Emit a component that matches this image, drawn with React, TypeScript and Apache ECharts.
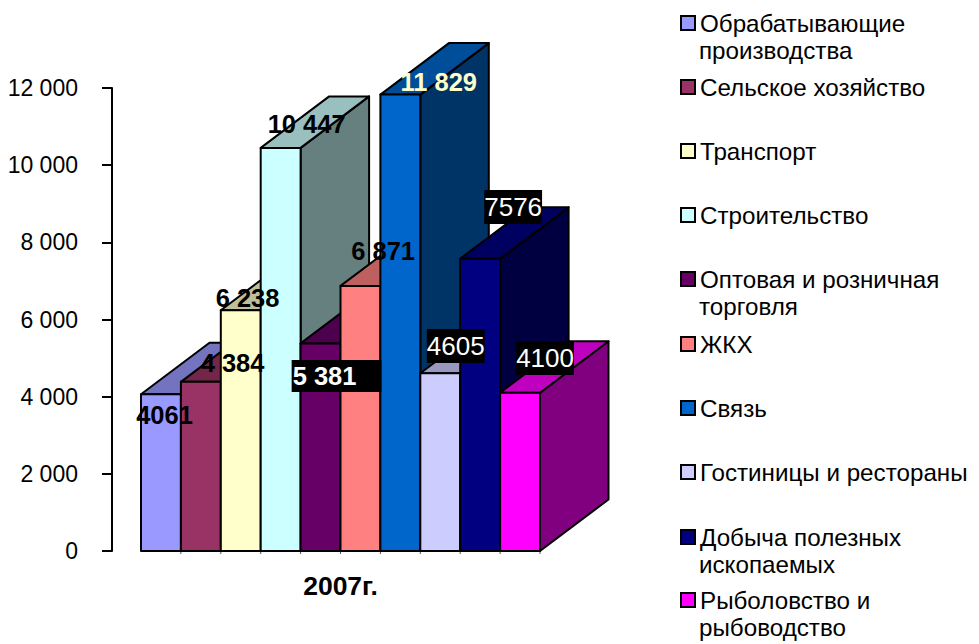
import React, { useEffect, useRef } from "react";
import * as echarts from "echarts";

const category = ["2007г."];
const sectors = [
  "Обрабатывающие",
  "Сельское хозяйство",
  "Транспорт",
  "Строительство",
  "Оптовая и розничная",
  "ЖКХ",
  "Связь",
  "Гостиницы и рестораны",
  "Добыча полезных",
  "Рыболовство и",
];
const secondLines = ["производства", "", "", "", "торговля", "", "", "", "ископаемых", "рыбоводство"];
const values = [4061, 4384, 6238, 10447, 5381, 6871, 11829, 4605, 7576, 4100];
const labelTexts = ["4061", "4 384", "6 238", "10 447", "5 381", "6 871", "11 829", "4605", "7576", "4100"];
const frontColors = ["#9999FF", "#993366", "#FFFFCC", "#CCFFFF", "#660066", "#FF8080", "#0066CC", "#CCCCFF", "#000080", "#FF00FF"];
const topColors = ["#7373BF", "#732647", "#BFBF99", "#99BFBF", "#4D004D", "#BF6060", "#004D99", "#9999BF", "#000060", "#BF00BF"];
const sideColors = ["#4D4D80", "#4D1A33", "#808066", "#668080", "#330033", "#804040", "#003366", "#666680", "#000040", "#800080"];

// Presentation only: how each hand-placed data label sits relative to the top of its bar.
const labelDx = [3.6, 31.7, 6.8, 26, -28.9, 22.7, 38.4, 15.5, 33, 25];
const labelDy = [20.7, -19, -12, -24, 32.6, -35, -12.6, -27.3, -51.7, -34.8];
const labelColors = ["#000", "#000", "#000", "#000", "#fff", "#000", "#FFFFCC", "#fff", "#fff", "#fff"];
const labelBold = [true, true, true, true, true, true, true, false, false, false];
const labelBoxed = [false, false, false, false, true, false, false, true, true, true];
const legendCentres = [23, 87, 151, 215, 279, 344, 408, 472, 537, 600];

const DEPTH_X = 68.5;
const DEPTH_Y = 51.5;
const FONT = '"Liberation Sans", Arial, sans-serif';
const LEGEND_FONT = 24.2;
const LEGEND_LINE = 26;

function barRenderer(i: number) {
  return (_p: any, api: any) => {
    const top = api.coord([0, api.value(1)]);
    const base = api.coord([0, 0]);
    const band = api.size([1, 0])[0];
    const w = band / sectors.length;
    const x0 = top[0] - band / 2 + i * w;
    const x1 = x0 + w;
    const yt = top[1];
    const yb = base[1];
    const stroke = { stroke: "#000", lineWidth: 2, lineJoin: "round" };
    return {
      type: "group",
      children: [
        {
          type: "line",
          shape: { x1: x1, y1: yb, x2: x1, y2: yb + 3 },
          style: { stroke: "#555", lineWidth: 1 },
        },
        {
          type: "polygon",
          shape: { points: [[x1, yt], [x1 + DEPTH_X, yt - DEPTH_Y], [x1 + DEPTH_X, yb - DEPTH_Y], [x1, yb]] },
          style: { fill: sideColors[i], ...stroke },
        },
        {
          type: "polygon",
          shape: { points: [[x0, yt], [x0 + DEPTH_X, yt - DEPTH_Y], [x1 + DEPTH_X, yt - DEPTH_Y], [x1, yt]] },
          style: { fill: topColors[i], ...stroke },
        },
        {
          type: "rect",
          shape: { x: x0, y: yt, width: w, height: yb - yt },
          style: { fill: frontColors[i], ...stroke },
        },
      ],
    };
  };
}

function labelRenderer(params: any, api: any) {
  const i = params.dataIndex;
  const top = api.coord([0, api.value(1)]);
  const band = api.size([1, 0])[0];
  const w = band / sectors.length;
  const cx = top[0] - band / 2 + (i + 0.5) * w;
  const wide = i === 4;
  return {
    type: "text",
    x: cx + labelDx[i],
    y: top[1] + labelDy[i],
    style: {
      text: labelTexts[i],
      fill: labelColors[i],
      font: `${labelBold[i] ? "bold 25.5px" : "26px"} ${FONT}`,
      align: wide ? "left" : "center",
      verticalAlign: "middle",
      backgroundColor: labelBoxed[i] ? "#000" : undefined,
      padding: labelBoxed[i] ? (wide ? [3, 25, 3, 1] : [4, 0, 4, 0]) : 0,
    },
  };
}

export default function App() {
  const ref = useRef<HTMLDivElement>(null);
  useEffect(() => {
    const chart = echarts.init(ref.current!, null, { renderer: "svg" });
    chart.setOption({
      animation: false,
      backgroundColor: "#fff",
      grid: { left: 141, top: 88, width: 399, height: 463, containLabel: false },
      xAxis: {
        type: "category",
        data: category,
        axisLine: { show: false },
        axisTick: { show: false },
        axisLabel: { margin: 21, fontFamily: FONT, fontWeight: "bold", fontSize: 26.5, color: "#000" },
      },
      yAxis: {
        type: "value",
        min: 0,
        max: 12000,
        interval: 2000,
        offset: 29,
        splitLine: { show: false },
        axisLine: { show: true, lineStyle: { color: "#000", width: 2 } },
        axisTick: { show: true, length: 10, lineStyle: { color: "#000", width: 2 } },
        axisLabel: {
          margin: 34,
          fontFamily: FONT,
          fontSize: 23,
          color: "#000",
          formatter: (v: number) => String(v).replace(/\B(?=(\d{3})+$)/g, " "),
        },
      },
      legend: sectors.map((name, i) => ({
        data: [name],
        left: 680,
        top: legendCentres[i] - LEGEND_LINE / 2,
        padding: 0,
        itemWidth: 14,
        itemHeight: 14,
        icon: "rect",
        selectedMode: false,
        itemStyle: { borderColor: "#000", borderWidth: 2 },
        textStyle: { fontFamily: FONT, fontSize: LEGEND_FONT, lineHeight: LEGEND_LINE, color: "#000" },
      })),
      graphic: secondLines
        .map((text, i) => ({ text, i }))
        .filter((d) => d.text)
        .map((d) => ({
          type: "text",
          x: 699,
          y: legendCentres[d.i] + 27,
          style: { text: d.text, font: `${LEGEND_FONT}px ${FONT}`, fill: "#000", verticalAlign: "middle" },
        })),
      series: [
        ...sectors.map((name, i) => ({
          type: "custom",
          name,
          z: 10 + i,
          clip: false,
          itemStyle: { color: frontColors[i] },
          renderItem: barRenderer(i),
          data: [[0, values[i]]],
        })),
        {
          type: "custom",
          name: "labels",
          z: 50,
          clip: false,
          renderItem: labelRenderer,
          data: values.map((v) => [0, v]),
        },
      ],
    });
    return () => chart.dispose();
  }, []);
  return <div ref={ref} style={{ position: "absolute", left: 0, top: 0, width: 979, height: 644 }} />;
}
